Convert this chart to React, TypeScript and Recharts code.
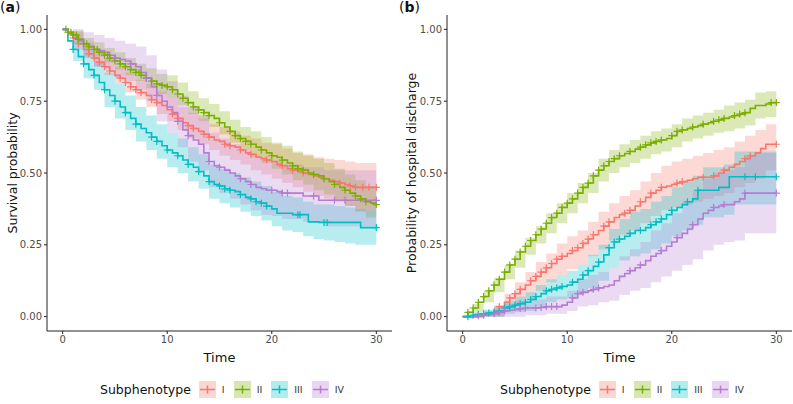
import React from 'react';
import { ComposedChart, Area, Line, Scatter, XAxis, YAxis } from 'recharts';

// time grid for the confidence bands (days)
const times = [0, 1, 2, 3, 4, 5, 6, 7, 8, 9, 10, 11, 12, 13, 14, 15, 16, 17, 18, 19, 20, 21, 22, 23, 24, 25, 26, 27, 28, 29, 30];
// finer time grid for the step curves
const halfTimes = [0, 0.5, 1, 1.5, 2, 2.5, 3, 3.5, 4, 4.5, 5, 5.5, 6, 6.5, 7, 7.5, 8, 8.5, 9, 9.5, 10, 10.5, 11, 11.5, 12, 12.5, 13, 13.5, 14, 14.5, 15, 15.5, 16, 16.5, 17, 17.5, 18, 18.5, 19, 19.5, 20, 20.5, 21, 21.5, 22, 22.5, 23, 23.5, 24, 24.5, 25, 25.5, 26, 26.5, 27, 27.5, 28, 28.5, 29, 29.5, 30];

const groups = ['I', 'II', 'III', 'IV'];
const colors = ['#F8766D', '#7CAE00', '#00BFC4', '#B57CD2'];

// (a) survival probability
const survI = [1.0, 0.99, 0.97, 0.95, 0.93, 0.915, 0.9, 0.885, 0.87, 0.855, 0.84, 0.83, 0.815, 0.8, 0.79, 0.78, 0.77, 0.755, 0.745, 0.735, 0.72, 0.705, 0.69, 0.675, 0.665, 0.655, 0.645, 0.635, 0.625, 0.615, 0.61, 0.6, 0.595, 0.59, 0.58, 0.57, 0.565, 0.555, 0.55, 0.545, 0.54, 0.53, 0.525, 0.515, 0.51, 0.505, 0.5, 0.495, 0.49, 0.485, 0.48, 0.475, 0.47, 0.465, 0.46, 0.455, 0.45, 0.45, 0.45, 0.45, 0.45];
const survILo = [1.0, 0.95, 0.905, 0.87, 0.84, 0.81, 0.78, 0.755, 0.73, 0.705, 0.68, 0.65, 0.62, 0.6, 0.58, 0.56, 0.545, 0.53, 0.51, 0.495, 0.48, 0.465, 0.45, 0.435, 0.42, 0.41, 0.4, 0.385, 0.37, 0.37, 0.37];
const survIHi = [1.0, 0.99, 0.955, 0.93, 0.9, 0.87, 0.85, 0.825, 0.81, 0.785, 0.76, 0.73, 0.71, 0.69, 0.67, 0.66, 0.645, 0.63, 0.62, 0.605, 0.6, 0.585, 0.57, 0.565, 0.555, 0.55, 0.545, 0.54, 0.535, 0.535, 0.535];

const survII = [1.0, 0.99, 0.98, 0.965, 0.95, 0.94, 0.93, 0.92, 0.91, 0.9, 0.89, 0.88, 0.87, 0.86, 0.85, 0.84, 0.83, 0.82, 0.81, 0.805, 0.8, 0.79, 0.775, 0.76, 0.745, 0.73, 0.72, 0.71, 0.7, 0.69, 0.675, 0.66, 0.645, 0.63, 0.62, 0.61, 0.6, 0.59, 0.58, 0.57, 0.56, 0.555, 0.545, 0.535, 0.525, 0.515, 0.51, 0.5, 0.495, 0.49, 0.48, 0.47, 0.46, 0.45, 0.44, 0.43, 0.42, 0.41, 0.4, 0.395, 0.39];
const survIILo = [1.0, 0.965, 0.93, 0.905, 0.885, 0.86, 0.84, 0.82, 0.795, 0.775, 0.76, 0.735, 0.705, 0.68, 0.66, 0.635, 0.605, 0.58, 0.555, 0.535, 0.515, 0.495, 0.475, 0.46, 0.44, 0.425, 0.405, 0.385, 0.365, 0.345, 0.335];
const survIIHi = [1.0, 0.995, 0.97, 0.955, 0.935, 0.92, 0.9, 0.88, 0.865, 0.845, 0.84, 0.815, 0.785, 0.76, 0.74, 0.715, 0.685, 0.66, 0.645, 0.625, 0.605, 0.595, 0.575, 0.56, 0.55, 0.535, 0.515, 0.495, 0.475, 0.455, 0.445];

const survIII = [1.0, 0.96, 0.93, 0.905, 0.88, 0.86, 0.84, 0.815, 0.79, 0.77, 0.75, 0.73, 0.71, 0.69, 0.67, 0.655, 0.64, 0.625, 0.61, 0.595, 0.58, 0.57, 0.56, 0.545, 0.53, 0.52, 0.505, 0.49, 0.47, 0.46, 0.455, 0.445, 0.44, 0.435, 0.425, 0.415, 0.41, 0.4, 0.395, 0.385, 0.375, 0.36, 0.36, 0.36, 0.355, 0.355, 0.355, 0.33, 0.33, 0.328, 0.328, 0.328, 0.328, 0.328, 0.328, 0.328, 0.328, 0.31, 0.31, 0.31, 0.31];
const survIIILo = [1.0, 0.89, 0.83, 0.79, 0.73, 0.69, 0.65, 0.61, 0.58, 0.55, 0.52, 0.5, 0.47, 0.445, 0.41, 0.395, 0.38, 0.365, 0.35, 0.335, 0.315, 0.3, 0.295, 0.28, 0.27, 0.265, 0.26, 0.255, 0.25, 0.25, 0.25];
const survIIIHi = [1.0, 0.97, 0.93, 0.89, 0.85, 0.81, 0.77, 0.73, 0.7, 0.67, 0.64, 0.62, 0.59, 0.565, 0.53, 0.515, 0.5, 0.485, 0.47, 0.455, 0.435, 0.42, 0.415, 0.4, 0.39, 0.39, 0.385, 0.38, 0.375, 0.37, 0.37];

const survIV = [1.0, 0.985, 0.97, 0.96, 0.95, 0.94, 0.93, 0.925, 0.92, 0.91, 0.9, 0.895, 0.89, 0.88, 0.87, 0.85, 0.83, 0.8, 0.77, 0.75, 0.73, 0.71, 0.68, 0.65, 0.63, 0.615, 0.6, 0.57, 0.54, 0.525, 0.52, 0.51, 0.5, 0.49, 0.48, 0.47, 0.46, 0.45, 0.445, 0.44, 0.44, 0.435, 0.43, 0.43, 0.43, 0.43, 0.42, 0.42, 0.42, 0.405, 0.405, 0.405, 0.405, 0.405, 0.405, 0.405, 0.405, 0.405, 0.405, 0.405, 0.405];
const survIVLo = [1.0, 0.93, 0.9, 0.87, 0.86, 0.83, 0.82, 0.79, 0.75, 0.68, 0.64, 0.59, 0.54, 0.51, 0.45, 0.43, 0.41, 0.39, 0.37, 0.355, 0.35, 0.34, 0.34, 0.33, 0.33, 0.315, 0.315, 0.315, 0.315, 0.315, 0.315];
const survIVHi = [1.0, 1.0, 0.99, 0.98, 0.97, 0.96, 0.95, 0.94, 0.91, 0.86, 0.82, 0.77, 0.73, 0.7, 0.64, 0.62, 0.6, 0.58, 0.56, 0.545, 0.54, 0.53, 0.53, 0.52, 0.52, 0.51, 0.51, 0.51, 0.51, 0.51, 0.51];

// censoring times (a)
const censSurvI = [1, 1.5, 2.5, 3, 3.5, 4, 4.5, 5.5, 6, 6.5, 7, 7.5, 8.5, 9, 10.5, 11, 12, 12.5, 13.5, 14, 15.5, 16, 17, 18, 19.5, 21, 22, 23, 25, 26.5, 27.5, 28, 28.7, 29.3, 30];
const censSurvII = [0.3, 0.5, 0.8, 1, 1.3, 1.5, 2, 2.3, 2.5, 3, 3.3, 3.5, 4, 4.3, 4.5, 5, 5.5, 6, 6.5, 7, 7.3, 7.5, 8, 8.5, 9, 9.5, 10, 10.5, 11, 11.5, 12, 12.5, 13, 13.5, 14, 15, 16, 16.5, 17, 17.5, 18, 19, 20, 21, 22, 22.5, 23, 24, 25, 26, 27, 28, 28.5, 29, 30];
const censSurvIII = [1, 2, 3, 4, 5, 6, 7, 8.5, 9, 10, 11, 12, 13, 14, 15, 15.5, 16, 17, 18, 18.5, 19, 19.5, 22.5, 22.7, 25, 25.3, 30];
const censSurvIV = [5, 6.5, 8, 9, 11, 12, 14, 15, 17, 18, 20, 21, 21.5, 24, 26, 27, 30];

// (b) probability of hospital discharge
const dischI = [0, 0, 0, 0, 0.005, 0.01, 0.02, 0.035, 0.05, 0.065, 0.08, 0.095, 0.11, 0.125, 0.14, 0.155, 0.17, 0.185, 0.2, 0.21, 0.22, 0.23, 0.24, 0.255, 0.27, 0.285, 0.3, 0.315, 0.33, 0.345, 0.355, 0.36, 0.37, 0.385, 0.4, 0.415, 0.43, 0.44, 0.45, 0.455, 0.46, 0.465, 0.47, 0.475, 0.48, 0.485, 0.485, 0.485, 0.49, 0.5, 0.51, 0.52, 0.53, 0.54, 0.55, 0.56, 0.57, 0.585, 0.6, 0.6, 0.6];
const dischILo = [0, 0, 0, 0, 0.02, 0.04, 0.065, 0.09, 0.12, 0.145, 0.165, 0.18, 0.21, 0.235, 0.265, 0.285, 0.3, 0.325, 0.35, 0.37, 0.38, 0.39, 0.4, 0.41, 0.42, 0.43, 0.45, 0.465, 0.48, 0.51, 0.51];
const dischIHi = [0, 0, 0.015, 0.04, 0.08, 0.12, 0.155, 0.19, 0.22, 0.255, 0.28, 0.3, 0.33, 0.365, 0.395, 0.42, 0.44, 0.47, 0.5, 0.525, 0.54, 0.55, 0.56, 0.57, 0.58, 0.59, 0.61, 0.63, 0.65, 0.67, 0.67];

const dischII = [0, 0.015, 0.03, 0.05, 0.07, 0.09, 0.11, 0.13, 0.155, 0.18, 0.2, 0.225, 0.245, 0.265, 0.285, 0.305, 0.325, 0.345, 0.36, 0.38, 0.395, 0.41, 0.43, 0.45, 0.465, 0.49, 0.51, 0.525, 0.54, 0.55, 0.56, 0.568, 0.575, 0.583, 0.59, 0.598, 0.605, 0.61, 0.615, 0.62, 0.63, 0.645, 0.65, 0.655, 0.66, 0.665, 0.67, 0.675, 0.68, 0.685, 0.69, 0.695, 0.7, 0.705, 0.71, 0.725, 0.735, 0.735, 0.74, 0.745, 0.745];
const dischIILo = [0, 0.015, 0.05, 0.085, 0.13, 0.17, 0.215, 0.255, 0.29, 0.325, 0.36, 0.395, 0.43, 0.47, 0.5, 0.52, 0.535, 0.55, 0.565, 0.575, 0.59, 0.61, 0.62, 0.63, 0.64, 0.645, 0.655, 0.665, 0.69, 0.695, 0.7];
const dischIIHi = [0, 0.045, 0.09, 0.135, 0.18, 0.23, 0.275, 0.315, 0.36, 0.395, 0.43, 0.465, 0.5, 0.55, 0.58, 0.6, 0.615, 0.63, 0.645, 0.655, 0.67, 0.69, 0.7, 0.71, 0.72, 0.735, 0.745, 0.755, 0.78, 0.785, 0.79];

const dischIII = [0, 0, 0.005, 0.008, 0.01, 0.013, 0.015, 0.02, 0.03, 0.035, 0.04, 0.045, 0.05, 0.06, 0.07, 0.08, 0.09, 0.095, 0.1, 0.105, 0.11, 0.12, 0.13, 0.145, 0.16, 0.175, 0.19, 0.215, 0.24, 0.26, 0.27, 0.28, 0.29, 0.3, 0.3, 0.31, 0.32, 0.33, 0.34, 0.355, 0.37, 0.38, 0.39, 0.4, 0.41, 0.44, 0.44, 0.44, 0.44, 0.45, 0.45, 0.487, 0.487, 0.487, 0.487, 0.487, 0.487, 0.487, 0.487, 0.487, 0.487];
const dischIIILo = [0, 0, 0, 0, 0.01, 0.015, 0.02, 0.035, 0.05, 0.06, 0.065, 0.08, 0.1, 0.125, 0.17, 0.195, 0.21, 0.22, 0.235, 0.255, 0.28, 0.3, 0.32, 0.345, 0.345, 0.355, 0.39, 0.39, 0.39, 0.39, 0.39];
const dischIIIHi = [0, 0.015, 0.025, 0.035, 0.055, 0.07, 0.085, 0.11, 0.13, 0.145, 0.16, 0.18, 0.215, 0.25, 0.305, 0.34, 0.365, 0.375, 0.4, 0.42, 0.45, 0.47, 0.49, 0.52, 0.52, 0.53, 0.575, 0.575, 0.575, 0.575, 0.575];

const dischIV = [0, 0, 0, 0.003, 0.005, 0.008, 0.01, 0.015, 0.02, 0.022, 0.025, 0.028, 0.03, 0.03, 0.03, 0.032, 0.035, 0.035, 0.035, 0.04, 0.05, 0.065, 0.08, 0.085, 0.09, 0.095, 0.1, 0.105, 0.11, 0.125, 0.14, 0.15, 0.16, 0.17, 0.18, 0.195, 0.21, 0.22, 0.23, 0.245, 0.26, 0.275, 0.29, 0.305, 0.32, 0.34, 0.36, 0.37, 0.38, 0.385, 0.39, 0.39, 0.4, 0.41, 0.43, 0.43, 0.43, 0.43, 0.43, 0.43, 0.43];
const dischIVLo = [0, 0, 0, 0, 0, 0, 0.005, 0.005, 0.01, 0.01, 0.02, 0.035, 0.04, 0.05, 0.055, 0.075, 0.09, 0.1, 0.12, 0.14, 0.16, 0.18, 0.2, 0.23, 0.25, 0.26, 0.265, 0.29, 0.29, 0.29, 0.29];
const dischIVHi = [0, 0.01, 0.02, 0.03, 0.045, 0.055, 0.06, 0.06, 0.07, 0.07, 0.09, 0.13, 0.145, 0.155, 0.17, 0.21, 0.235, 0.26, 0.3, 0.325, 0.36, 0.4, 0.44, 0.48, 0.5, 0.51, 0.52, 0.56, 0.57, 0.57, 0.57];

// censoring times (b)
const censDischI = [3.5, 4.5, 5, 5.5, 6.5, 7, 7.5, 8, 8.5, 9, 9.5, 10.5, 11, 11.5, 12, 12.5, 13.5, 14, 15.5, 16, 17, 18, 19, 20.5, 21, 23, 24, 25, 27, 27.5, 30];
const censDischII = [0.5, 1, 1.5, 2, 2.5, 3, 3.5, 4, 4.5, 5, 5.5, 6, 6.5, 7, 7.5, 8, 8.5, 9, 9.5, 10, 10.5, 11, 11.5, 12, 12.5, 13, 13.5, 14, 14.5, 15, 16, 17, 17.5, 18, 18.5, 19, 20, 20.5, 21, 22, 23, 24, 24.5, 25, 26, 26.5, 27, 29.5, 30];
const censDischIII = [0.5, 1, 1.5, 2, 2.5, 3, 3.5, 4, 4.5, 5, 5.5, 6, 6.5, 7, 8, 8.5, 9, 9.5, 10.5, 11.5, 12, 13, 14, 14.5, 15, 16, 17, 18, 18.5, 19, 20, 21.5, 22.5, 27, 28, 30];
const censDischIV = [1.5, 2, 3, 3.5, 4, 5.5, 6, 7, 7.5, 8, 8.5, 9, 10.5, 11, 11.5, 12.5, 13, 16, 17, 19, 20.5, 22, 24, 25, 27, 30];

type Series = { vals: number[]; lo: number[]; hi: number[]; cens: number[] };

const panelA: Series[] = [
  { vals: survI, lo: survILo, hi: survIHi, cens: censSurvI },
  { vals: survII, lo: survIILo, hi: survIIHi, cens: censSurvII },
  { vals: survIII, lo: survIIILo, hi: survIIIHi, cens: censSurvIII },
  { vals: survIV, lo: survIVLo, hi: survIVHi, cens: censSurvIV },
];

const panelB: Series[] = [
  { vals: dischI, lo: dischILo, hi: dischIHi, cens: censDischI },
  { vals: dischII, lo: dischIILo, hi: dischIIHi, cens: censDischII },
  { vals: dischIII, lo: dischIIILo, hi: dischIIIHi, cens: censDischIII },
  { vals: dischIV, lo: dischIVLo, hi: dischIVHi, cens: censDischIV },
];

const FONT = '"DejaVu Sans", "Liberation Sans", sans-serif';

const bandOf = (s: Series) => times.map((t, i) => ({ t, ci: [s.lo[i], s.hi[i]] }));
const curveOf = (s: Series) => halfTimes.map((t, i) => ({ t, v: s.vals[i] }));
// censor mark sits on the step value in force at time t
const censOf = (s: Series) =>
  s.cens.map(t => ({ t, v: s.vals[Math.min(Math.floor(t * 2), s.vals.length - 1)] }));

const plusShape = (color: string) => (props: any) => {
  const { cx, cy } = props;
  if (cx == null || cy == null) return <g />;
  return <path d={`M${cx - 3.5},${cy}h7M${cx},${cy - 3.5}v7`} stroke={color} strokeWidth={1.2} fill="none" />;
};

function Panel({ series, yWidth, width }: { series: Series[]; yWidth: number; width: number }) {
  return (
    <ComposedChart width={width} height={373} margin={{ top: 15, right: 1, left: 0, bottom: 0 }}>
      <XAxis
        type="number"
        dataKey="t"
        domain={[-1.5, 31.5]}
        ticks={[0, 10, 20, 30]}
        tick={{ fontSize: 10, fill: '#4d4d4d', fontFamily: FONT }}
        tickSize={3}
        stroke="#222"
        height={42}
        allowDataOverflow
        label={{ value: 'Time', position: 'insideBottom', offset: 11, fontSize: 13, fill: '#111', fontFamily: FONT }}
      />
      <YAxis
        type="number"
        domain={[-0.05, 1.05]}
        ticks={[0, 0.25, 0.5, 0.75, 1]}
        tickFormatter={(v: number) => v.toFixed(2)}
        tick={{ fontSize: 10, fill: '#4d4d4d', fontFamily: FONT }}
        tickSize={3}
        stroke="#222"
        width={yWidth}
        allowDataOverflow
      />
      {series.map((s, i) => (
        <Area
          key={'ci' + i}
          data={bandOf(s)}
          dataKey="ci"
          type="stepAfter"
          fill={colors[i]}
          fillOpacity={0.28}
          stroke="none"
          isAnimationActive={false}
        />
      ))}
      {series.map((s, i) => (
        <Line
          key={'l' + i}
          data={curveOf(s)}
          dataKey="v"
          type="stepAfter"
          stroke={colors[i]}
          strokeWidth={1.6}
          dot={false}
          activeDot={false}
          isAnimationActive={false}
        />
      ))}
      {series.map((s, i) => (
        <Scatter
          key={'c' + i}
          data={censOf(s)}
          dataKey="v"
          shape={plusShape(colors[i])}
          isAnimationActive={false}
        />
      ))}
    </ComposedChart>
  );
}

function LegendKey({ color }: { color: string }) {
  return (
    <svg width={17} height={17} style={{ display: 'block' }}>
      <rect x={0} y={0} width={17} height={17} fill={color} fillOpacity={0.3} />
      <path d="M1,8.5h15M8.5,4.5v8" stroke={color} strokeWidth={1.5} />
    </svg>
  );
}

function Legend({ left }: { left: number }) {
  return (
    <div style={{ position: 'absolute', left, top: 381, display: 'flex', alignItems: 'center', fontFamily: FONT }}>
      <span style={{ fontSize: 12.5, color: '#111', marginRight: 8 }}>Subphenotype</span>
      {groups.map((g, i) => (
        <div key={g} style={{ display: 'flex', alignItems: 'center', marginRight: 9 }}>
          <LegendKey color={colors[i]} />
          <span style={{ fontSize: 9.5, color: '#333', marginLeft: 6 }}>{g}</span>
        </div>
      ))}
    </div>
  );
}

export default function App() {
  return (
    <div style={{ position: 'absolute', left: 0, top: 0, width: 793, height: 404, background: '#fff', fontFamily: FONT }}>
      <div style={{ position: 'absolute', left: 0, top: 0 }}>
        <Panel series={panelA} yWidth={47} width={393} />
      </div>
      <div style={{ position: 'absolute', left: 396, top: 0 }}>
        <Panel series={panelB} yWidth={51} width={397} />
      </div>
      <div style={{ position: 'absolute', left: 0, top: -1, fontSize: 14, color: '#111' }}>
        (<b>a</b>)
      </div>
      <div style={{ position: 'absolute', left: 399, top: -1, fontSize: 14, color: '#111' }}>
        (<b>b</b>)
      </div>
      <div style={{ position: 'absolute', left: 12, top: 173, transform: 'translate(-50%, -50%) rotate(-90deg)', whiteSpace: 'nowrap', fontSize: 12.5, color: '#111' }}>
        Survival probability
      </div>
      <div style={{ position: 'absolute', left: 411, top: 173, transform: 'translate(-50%, -50%) rotate(-90deg)', whiteSpace: 'nowrap', fontSize: 12.5, color: '#111' }}>
        Probability of hospital discharge
      </div>
      <Legend left={100} />
      <Legend left={500} />
    </div>
  );
}
